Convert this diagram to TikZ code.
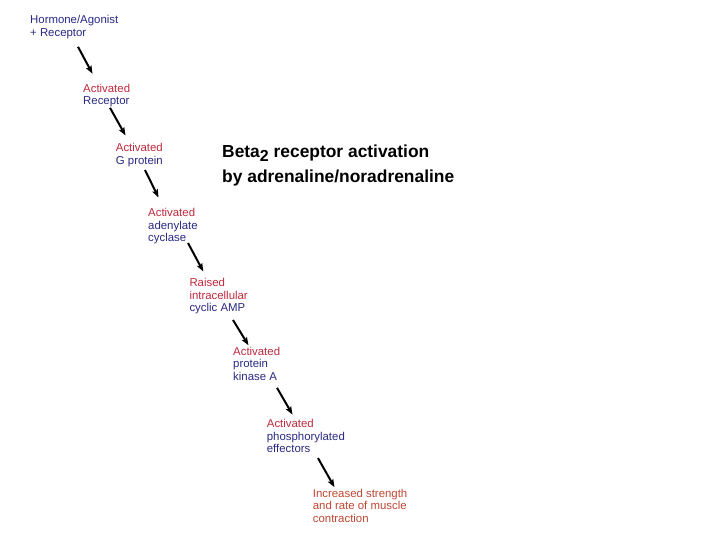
\documentclass[tikz,border=0pt]{standalone}
\usepackage{fontspec}
\setmainfont{Liberation Sans}
\usetikzlibrary{arrows.meta}

\definecolor{actred}{RGB}{190,40,60}
\definecolor{molblue}{RGB}{40,40,130}
\definecolor{outred}{RGB}{190,70,50}

\begin{document}
\begin{tikzpicture}[
    x=1pt, y=-1pt,
    lbl/.style={anchor=north west, inner sep=0pt, align=left, font=\fontsize{11.4}{12.5}\selectfont},
    ttl/.style={anchor=north west, inner sep=0pt, align=left, font=\fontsize{17.4}{25}\selectfont\bfseries},
    arr/.style={-{Stealth[length=8pt, width=6pt, inset=1.5pt]}, black, line width=2pt}
]
\useasboundingbox (0,0) rectangle (720,540);

% ---------- Title ----------
\node[ttl] (title) at (222,145)
    {Beta\raisebox{-3.5pt}{\fontsize{16}{16}\selectfont 2} receptor activation\\by adrenaline/noradrenaline};

% ---------- Cascade steps ----------
\node[lbl, font=\fontsize{11.4}{13.5}\selectfont, text=molblue] (hormone) at (30,14.8) {Hormone/Agonist\\+ Receptor};
\node[lbl] (receptor)    at (83,83.8)    {\color{actred}Activated\\\color{molblue}Receptor};
\node[lbl] (gprotein)    at (115.7,143.5) {\color{actred}Activated\\\color{molblue}G protein};
\node[lbl] (cyclase)     at (148,208.5)  {\color{actred}Activated\\\color{molblue}adenylate\\\color{molblue}cyclase};
\node[lbl] (camp)        at (189.3,278.5) {\color{actred}Raised\\\color{actred}intracellular\\\color{molblue}cyclic AMP};
\node[lbl] (kinase)      at (233,346.8)  {\color{actred}Activated\\\color{molblue}protein\\\color{molblue}kinase A};
\node[lbl] (effectors)   at (266.7,419.1) {\color{actred}Activated\\\color{molblue}phosphorylated\\\color{molblue}effectors};
\node[lbl, text=outred] (contraction) at (312.7,488.8) {Increased strength\\and rate of muscle\\contraction};

% ---------- Arrows ----------
\draw[arr] ([shift={(48,32)}]hormone.north west) -- ([shift={(9.5,-10)}]receptor.north west);
\draw[arr] ([shift={(27,24)}]receptor.north west) -- ([shift={(9.8,-8)}]gprotein.north west);
\draw[arr] ([shift={(29.3,26.5)}]gprotein.north west) -- ([shift={(10.5,-11)}]cyclase.north west);
\draw[arr] ([shift={(40,34.5)}]cyclase.north west) -- ([shift={(14,-7)}]camp.north west);
\draw[arr] ([shift={(43.7,41.5)}]camp.north west) -- ([shift={(15.5,-1.5)}]kinase.north west);
\draw[arr] ([shift={(44,41)}]kinase.north west) -- ([shift={(25.8,-4.5)}]effectors.north west);
\draw[arr] ([shift={(51.3,39)}]effectors.north west) -- ([shift={(21.8,-1.5)}]contraction.north west);

\end{tikzpicture}
\end{document}
